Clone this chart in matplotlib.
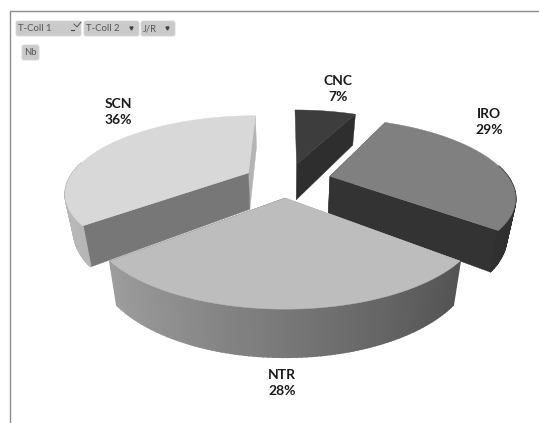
import numpy as np
import matplotlib
matplotlib.use('Agg')
import matplotlib.pyplot as plt
from matplotlib.patches import FancyBboxPatch

plt.rcParams['font.family'] = ['Lato', 'DejaVu Sans']

# donnees du camembert
labels = ['CNC', 'IRO', 'NTR', 'SCN']
values = [7, 29, 28, 36]

top_colors = ['#3d3d3d', '#808080', '#bdbdbd', '#d8d8d8']
radial_colors = ['#2e2e2e', '#333333', '#555555', '#777777']
end_colors = ['#1c1c1c', '#333333', '#9a9a9a', '#b4b4b4']
rim_left = ['#2e2e2e', '#303030', '#a8a8a8', '#b8b8b8']
rim_right = ['#2e2e2e', '#303030', '#484848', '#a8a8a8']

label_x = [338, 489, 282, 118]
label_y = [89, 122.5, 383, 112]

filters = ['T-Coll 1', 'T-Coll 2', 'J/R']
filter_x = [15, 83, 140]
filter_w = [67, 57, 36]

# projection perspective du disque
Cx, Cy = 285, 180
fx, fy = 180, 74
persp = 0.24
depth = 37
explode = 0.23
nudge = [3, 5, 0, 0]


def project(u, v, low=False):
    d = 1 + persp*v
    x = fx*u/d
    y = -fy*v/d
    if low:
        x = x*0.96
        y = y + depth/d**0.75
    return Cx + x, Cy + y


def slice_xy(t, i, r=1.0, low=False):
    u = explode*np.sin(mids[i]) + r*np.sin(t)
    v = explode*np.cos(mids[i]) + r*np.cos(t)
    x, y = project(u, v, low)
    return x + nudge[i], y


fig = plt.figure(figsize=(5.39, 4.23), dpi=100)
ax = fig.add_axes([0, 0, 1, 1])
ax.set_xlim(0, 539)
ax.set_ylim(423, 0)
ax.axis('off')

edges = np.radians(np.concatenate([[0], np.cumsum(values)])*3.6)
mids = (edges[:-1] + edges[1:])/2

# ordre de dessin : du fond vers l'avant
for i in [0, 3, 1, 2]:
    a, b = edges[i], edges[i+1]

    # faces radiales
    for t, col in [(b, end_colors[i]), (a, radial_colors[i])] if i == 3 else [(a, end_colors[i]), (b, radial_colors[i])]:
        if i == 0 and t == a:
            continue
        x0, y0 = slice_xy(t, i, 0.0)
        x1, y1 = slice_xy(t, i, 1.0)
        x2, y2 = slice_xy(t, i, 1.0, True)
        x3, y3 = slice_xy(t, i, 0.0, True)
        ax.fill([x0, x1, x2, x3], [y0, y1, y2, y3], color=col, lw=0.3)

    # bord exterieur, en degrade
    tt = np.linspace(a, b, 90)
    tt = tt[np.cos(tt) < 0.15]
    if len(tt) > 1:
        c0 = np.array(matplotlib.colors.to_rgb(rim_left[i]))
        c1 = np.array(matplotlib.colors.to_rgb(rim_right[i]))
        for k in range(len(tt)-1):
            xa, ya = slice_xy(tt[k], i)
            xb, yb = slice_xy(tt[k+1], i)
            xc, yc = slice_xy(tt[k+1], i, 1.0, True)
            xd, yd = slice_xy(tt[k], i, 1.0, True)
            s = np.sin((tt[k]+tt[k+1])/2)
            col = c0 + (c1-c0)*(s+1)/2
            ax.fill([xa, xb, xc, xd], [ya, yb, yc, yd], color=col, lw=1.2)

    # dessus
    tt = np.linspace(a, b, 90)
    xs, ys = slice_xy(tt, i)
    x0, y0 = slice_xy(a, i, 0.0)
    ax.fill(np.r_[x0, xs], np.r_[y0, ys], color=top_colors[i], lw=0.3)

for i in range(len(labels)):
    ax.text(label_x[i], label_y[i], '%s\n%d%%' % (labels[i], values[i]), ha='center', va='center',
            fontsize=10, fontweight='bold', color='#1a1a1a', linespacing=1.4)

# cadre
ax.plot([539, 10, 10], [11, 11, 423], color='#8c8c8c', lw=1)

# boutons de filtre
for i in range(len(filters)):
    ax.add_patch(FancyBboxPatch((filter_x[i]+1, 21), filter_w[i]-2, 15, boxstyle='round,pad=0,rounding_size=2',
                                fc='#cacaca', ec='#d6d6d6', lw=0.6))
    ax.text(filter_x[i]+3, 28.5, filters[i], ha='left', va='center', fontsize=6.8, color='#555555')
    if i > 0:
        ax.plot(filter_x[i]+filter_w[i]-9, 28, marker='v', ms=2.2, color='#444444')
ax.plot([71, 74], [30, 30], color='#444444', lw=0.8)
ax.plot([74, 77, 81], [24, 27, 22], color='#555555', lw=0.7)

ax.add_patch(FancyBboxPatch((22, 45), 17, 15, boxstyle='round,pad=0,rounding_size=2',
                            fc='#cacaca', ec='#d6d6d6', lw=0.6))
ax.text(30.5, 52.5, 'Nb', ha='center', va='center', fontsize=6.8, color='#555555')

fig.savefig('out.png', dpi=100)
